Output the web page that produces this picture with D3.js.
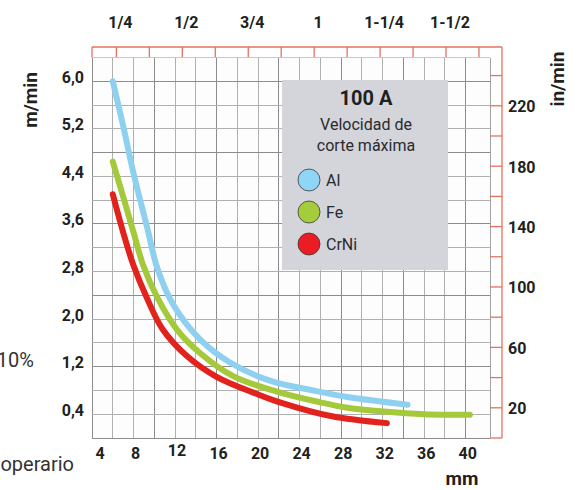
<!DOCTYPE html>
<html><head><meta charset="utf-8">
<script src="https://cdn.jsdelivr.net/npm/d3@7"></script>
<style>
html,body{margin:0;padding:0;background:#fff;}
svg text{font-family:Roboto,"Noto Sans",sans-serif;}
</style></head>
<body>
<svg id="c" width="579" height="490"></svg>
<script>
// ---- data ----
const mmTicks = [4, 8, 12, 16, 20, 24, 28, 32, 36, 40];
const msTicks = [0.4, 1.2, 2.0, 2.8, 3.6, 4.4, 5.2, 6.0];
const msTickLabels = ["0,4", "1,2", "2,0", "2,8", "3,6", "4,4", "5,2", "6,0"];
const inMinTicks = [20, 60, 100, 140, 180, 220];
const inchTicks = [0.25, 0.5, 0.75, 1, 1.25, 1.5];
const inchTickLabels = ["1/4", "1/2", "3/4", "1", "1-1/4", "1-1/2"];
const series = ["Al", "Fe", "CrNi"];
const colors = ["#8dd0ef", "#a4c93b", "#e2221c"];
const legendColors = ["#8fd6f6", "#a5cc3a", "#ec1c24"];
const alX = [6, 7, 8, 9.3, 10.3, 11.8, 14.4, 17.3, 21.2, 25.3, 28.6, 34.4];
const alY = [6.0, 5.25, 4.45, 3.55, 2.85, 2.25, 1.66, 1.27, 0.96, 0.80, 0.69, 0.56];
const feX = [6, 7, 8, 8.9, 10.3, 12.2, 14.4, 17.6, 21.8, 26, 28.6, 32.4, 36, 40.4];
const feY = [4.65, 4.06, 3.46, 2.92, 2.36, 1.82, 1.43, 1.04, 0.78, 0.60, 0.51, 0.44, 0.40, 0.39];
const crX = [6, 7, 8, 9.3, 10.8, 13.2, 16, 19.9, 22.1, 27, 32.4];
const crY = [4.10, 3.46, 2.90, 2.35, 1.83, 1.37, 1.03, 0.74, 0.60, 0.37, 0.25];

// ---- layout ----
const L = 92, R = 490, T = 57.5, B = 438, band = 502, bandTop = 47;
const x = d3.scaleLinear().domain([4, 42]).range([L, 486.5]);
const y = d3.scaleLinear().domain([0, 6.4]).range([B, T]);
const svg = d3.select("#c");

// plot background
svg.append("rect").attr("x", L).attr("y", T).attr("width", R - L).attr("height", B - T).attr("fill", "#fdfdfd");

// grid
const g = svg.append("g").attr("stroke", "#a3a3a3").attr("stroke-width", 1).attr("shape-rendering", "crispEdges");
g.selectAll("line.v").data(d3.range(4, 41, 2)).join("line")
  .attr("x1", d => x(d)).attr("x2", d => x(d)).attr("y1", T).attr("y2", B)
  .attr("stroke", (d, i) => (i % 3 === 0 ? "#8c8c8c" : "#b0b0b0"));
g.append("line").attr("x1", R).attr("x2", R).attr("y1", T).attr("y2", B);
g.selectAll("line.h").data(d3.range(0, 17).map(i => i * 0.4)).join("line")
  .attr("x1", L).attr("x2", R).attr("y1", d => y(d)).attr("y2", d => y(d))
  .attr("stroke", (d, i) => (i % 3 === 0 ? "#8c8c8c" : "#b0b0b0"));

// red bands
const red = "#e8705f";
const rb = svg.append("g").attr("stroke", red).attr("stroke-width", 1.3).attr("fill", "none");
rb.append("line").attr("x1", L).attr("x2", band).attr("y1", bandTop).attr("y2", bandTop);
rb.append("line").attr("x1", L).attr("x2", L).attr("y1", bandTop).attr("y2", T);
rb.append("line").attr("x1", band).attr("x2", band).attr("y1", bandTop).attr("y2", B);
rb.append("line").attr("x1", R).attr("x2", band).attr("y1", B).attr("y2", B);
rb.selectAll("line.it").data(d3.range(2, 14).map(i => i / 8)).join("line")
  .attr("x1", d => x(d * 25.4)).attr("x2", d => x(d * 25.4)).attr("y1", bandTop).attr("y2", T);
rb.selectAll("line.rt").data(d3.range(20, 241, 20)).join("line")
  .attr("x1", R).attr("x2", band).attr("y1", d => y(d / 39.37)).attr("y2", d => y(d / 39.37));
svg.append("line").attr("x1", L).attr("x2", R).attr("y1", T).attr("y2", T).attr("stroke", "#c9c9c9");

// curves
const line = d3.line().x(d => x(d[0])).y(d => y(d[1])).curve(d3.curveCatmullRom.alpha(0.5));
const data = [d3.zip(alX, alY), d3.zip(feX, feY), d3.zip(crX, crY)];
svg.append("g").selectAll("path").data([2, 1, 0]).join("path")
  .attr("d", i => line(data[i])).attr("fill", "none")
  .attr("stroke", i => colors[i]).attr("stroke-width", 6).attr("stroke-linecap", "round");

// axis labels
const lab = svg.append("g").attr("fill", "#231f20").attr("font-weight", "bold").attr("font-size", 16);
lab.selectAll("text.l").data(msTicks).join("text")
  .attr("x", 84).attr("y", d => y(d) - 4).attr("text-anchor", "end").attr("dominant-baseline", "central")
  .text((d, i) => msTickLabels[i]);
lab.selectAll("text.r").data(inMinTicks).join("text")
  .attr("x", 508).attr("y", d => y(d / 39.37) + 1).attr("dominant-baseline", "central").text(d => d);
lab.selectAll("text.b").data(mmTicks).join("text")
  .attr("x", d => Math.max(x(d) + 2, 100)).attr("y", d => d === 12 ? 450 : 453)
  .attr("text-anchor", "middle").attr("dominant-baseline", "central").text(d => d);
lab.selectAll("text.t").data(inchTicks).join("text")
  .attr("x", d => x(d * 25.4) + 4).attr("y", 22)
  .attr("text-anchor", "middle").attr("dominant-baseline", "central").text((d, i) => inchTickLabels[i]);

const tt = svg.append("g").attr("fill", "#231f20").attr("font-weight", "bold").attr("font-size", 19);
tt.append("text").attr("transform", "translate(37,100) rotate(-90)").attr("text-anchor", "middle").text("m/min");
tt.append("text").attr("transform", "translate(564,79) rotate(-90)").attr("text-anchor", "middle").text("in/min");
tt.append("text").attr("x", 462).attr("y", 485).attr("text-anchor", "middle").text("mm");

// cut-off left texts
svg.append("text").attr("x", 34).attr("y", 367).attr("text-anchor", "end").attr("font-size", 20).attr("fill", "#333").text("10%");
svg.append("text").attr("x", 74).attr("y", 471).attr("text-anchor", "end").attr("font-size", 20).attr("fill", "#333").text("operario");

// legend box
const lg = svg.append("g");
lg.append("rect").attr("x", 282).attr("y", 80).attr("width", 166).attr("height", 190).attr("fill", "#d3d5da");
lg.append("text").attr("x", 366).attr("y", 105).attr("text-anchor", "middle").attr("font-weight", "bold").attr("font-size", 20).attr("fill", "#1f1f24").text("100 A");
lg.append("text").attr("x", 366).attr("y", 130).attr("text-anchor", "middle").attr("font-size", 16).attr("fill", "#2a2a2e").text("Velocidad de");
lg.append("text").attr("x", 366).attr("y", 151).attr("text-anchor", "middle").attr("font-size", 16).attr("fill", "#2a2a2e").text("corte máxima");
const items = lg.selectAll("g.it").data(series).join("g").attr("transform", (d, i) => `translate(309,${180 + i * 32})`);
items.append("circle").attr("r", 11).attr("fill", (d, i) => legendColors[i]).attr("stroke", "#3a3a3a").attr("stroke-width", 0.8);
items.append("text").attr("x", 17).attr("dominant-baseline", "central").attr("font-size", 16).attr("fill", "#2a2a2e").text(d => d);
</script>
</body></html>
